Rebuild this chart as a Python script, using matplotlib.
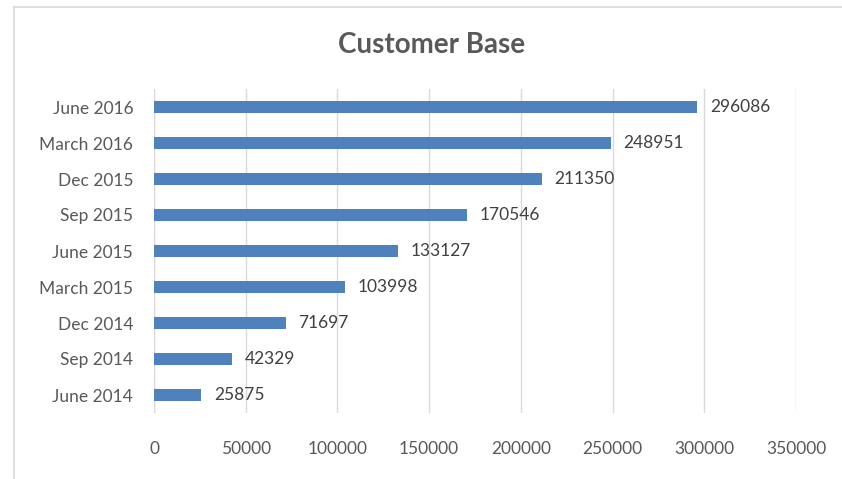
import matplotlib.pyplot as plt
from matplotlib.lines import Line2D

# data
periods = ["June 2014", "Sep 2014", "Dec 2014", "March 2015", "June 2015",
           "Sep 2015", "Dec 2015", "March 2016", "June 2016"]
customers = [25875, 42329, 71697, 103998, 133127, 170546, 211350, 248951, 296086]
xticks = [0, 50000, 100000, 150000, 200000, 250000, 300000, 350000]

plt.rcParams["font.family"] = ["Lato", "DejaVu Sans"]
txt = "#595959"

fig = plt.figure(figsize=(8.42, 4.79), dpi=100)
ax = fig.add_axes([154 / 842, 1 - 413 / 479, 642 / 842, 324 / 479])

ax.barh(range(len(periods)), customers, height=0.36, color="#4f81bd", zorder=3)
for i, v in enumerate(customers):
    ax.text(v + 7000, i, str(v), va="center", ha="left", fontsize=12.5, color="#404040")

ax.set_xlim(0, 350000)
ax.set_ylim(-0.5, len(periods) - 0.5)
ax.set_xticks(xticks)
ax.set_xticklabels([str(t) for t in xticks])
ax.set_yticks(range(len(periods)))
ax.set_yticklabels(periods)
ax.tick_params(axis="both", length=0, labelsize=12.5, labelcolor=txt)
ax.tick_params(axis="y", pad=15)
ax.tick_params(axis="x", pad=20)
ax.grid(axis="x", color="#d9d9d9", linewidth=1, zorder=0)
for s in ax.spines.values():
    s.set_visible(False)
ax.axvline(0, color="#d9d9d9", linewidth=1, zorder=1)

fig.text(432 / 842, 1 - 45 / 479, "Customer Base", ha="center", va="center",
         fontsize=20, fontweight="bold", color=txt)

# outer chart border (top and left only visible)
fig.add_artist(Line2D([14 / 842, 1], [1 - 7 / 479, 1 - 7 / 479], color="#d9d9d9", linewidth=1.2))
fig.add_artist(Line2D([14 / 842, 14 / 842], [0, 1 - 7 / 479], color="#d9d9d9", linewidth=1.2))

fig.savefig("out.png", dpi=100)
